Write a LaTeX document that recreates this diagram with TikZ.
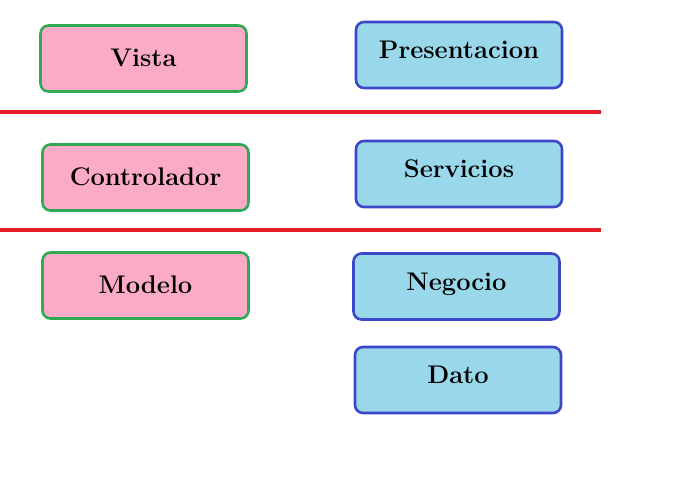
\documentclass[tikz,border=0pt]{standalone}
\usepackage{tikz}
\usetikzlibrary{positioning}
\usepackage{xcolor}
\definecolor{rosa}{RGB}{251,171,200}
\definecolor{verde}{RGB}{46,170,82}
\definecolor{celeste}{RGB}{153,216,235}
\definecolor{azul}{RGB}{60,72,200}
\definecolor{rojo}{RGB}{228,28,40}

\begin{document}
\begin{tikzpicture}[
  x=1pt, y=-1pt,
  font=\fontsize{25.5}{30}\selectfont\bfseries,
  gen/.style={draw, line width=2.6pt, rounded corners=8pt, minimum width=206pt,
              minimum height=66pt, align=center, text height=18pt},
  mvc/.style={gen, fill=rosa, draw=verde, text depth=2pt},
  capa/.style={gen, fill=celeste, draw=azul, text depth=11pt},
  sep/.style={draw=rojo, line width=4pt}
]
\useasboundingbox (0,0) rectangle (689,493);
\node[mvc] (vista) at (143.5,58.5) {Vista};
\node[mvc] (ctrl) at (145.5,177.5) {Controlador};
\node[mvc] (modelo) at (145.5,285.5) {Modelo};
\node[capa] (pres) at (459,55) {Presentacion};
\node[capa] (serv) at (459,174) {Servicios};
\node[capa] (neg) at (456.5,286.5) {Negocio};
\node[capa] (dato) at (458,380) {Dato};
\draw[sep] (0,112) -- (601,112);
\draw[sep] (0,230) -- (601,230);
\end{tikzpicture}
\end{document}
